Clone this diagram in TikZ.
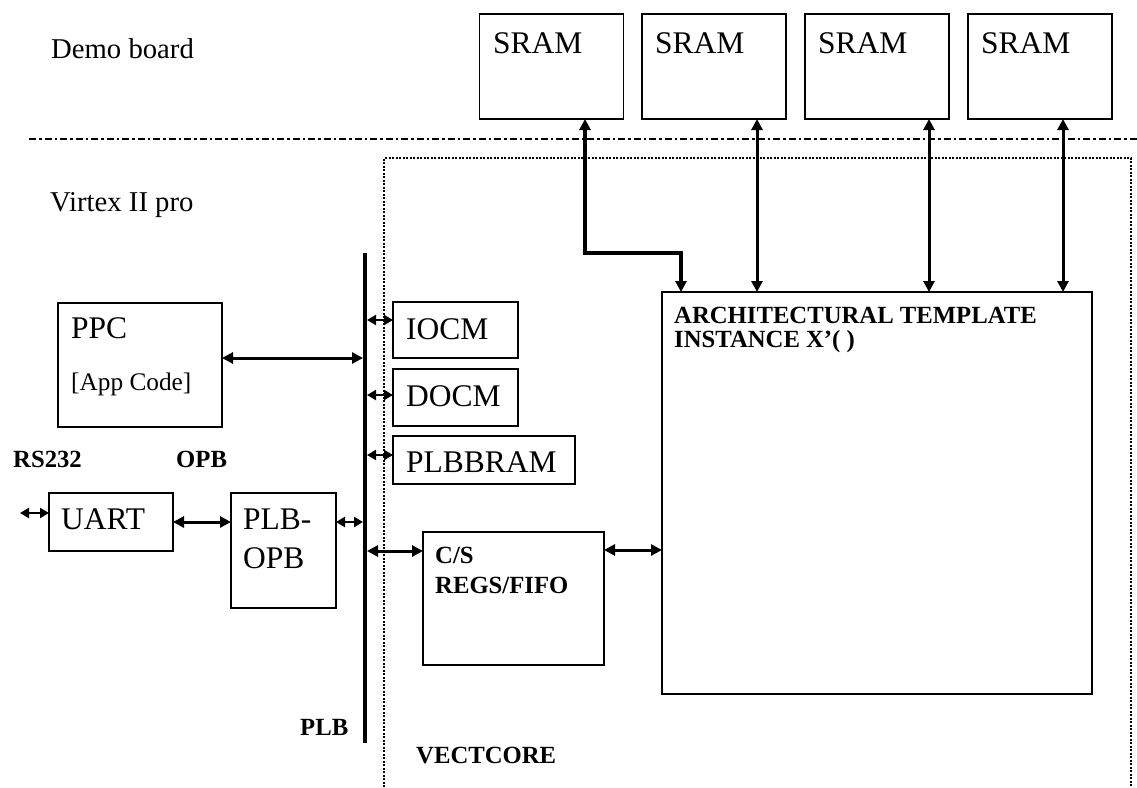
\documentclass[tikz,border=0pt]{standalone}
\usepackage{fontspec}
\setmainfont{Liberation Serif}
\usetikzlibrary{arrows.meta}
\tikzset{
  box/.style={draw, line width=1.5pt, inner sep=0pt, outer sep=0pt},
  big/.style={inner sep=0pt, anchor=base west, font=\fontsize{31.5}{36}\selectfont},
  mid/.style={inner sep=0pt, anchor=base west, font=\fontsize{28.7}{33}\selectfont},
  small/.style={inner sep=0pt, anchor=base west, font=\fontsize{25.3}{29}\selectfont},
  bld/.style={inner sep=0pt, anchor=base west, font=\fontsize{24.7}{28}\selectfont\bfseries},
  arr/.style={line width=3pt, {Triangle[length=11pt,width=11pt]}-{Triangle[length=11pt,width=11pt]}},
  sarr/.style={line width=2.8pt, {Triangle[length=9pt,width=10pt]}-{Triangle[length=9pt,width=10pt]}},
  dashdot/.style={line width=2.8pt, dash pattern=on 7pt off 3pt on 2.5pt off 3pt},
  dotbox/.style={line width=1.5pt, dash pattern=on 2pt off 1.5pt}
}
\begin{document}
\begin{tikzpicture}[x=1pt,y=-1pt]
\useasboundingbox (0,0) rectangle (1137,787);

% region separators
\coordinate (dl) at (29,139);
\coordinate (dr) at (1137,139);
\draw[dashdot] (dl) -- (dr);
\draw[dotbox] (384,787) -- (384,158) -- (1131,158) -- (1131,787);

% labels
\node[mid] (demo) at (51,58) {Demo board};
\node[mid] (virtex) at (50,211) {Virtex II pro};

% SRAM boxes
\node[box, minimum width=144pt, minimum height=105pt] (sram1) at (551.5,66.5) {};
\node[box, minimum width=144pt, minimum height=105pt] (sram2) at (714,66.5) {};
\node[box, minimum width=144pt, minimum height=105pt] (sram3) at (877,66.5) {};
\node[box, minimum width=144pt, minimum height=105pt] (sram4) at (1040,66.5) {};
\node[big] (t1) at (493,53) {SRAM};
\node[big] (t2) at (655,53) {SRAM};
\node[big] (t3) at (818,53) {SRAM};
\node[big] (t4) at (981,53) {SRAM};

% PPC
\node[box, minimum width=164pt, minimum height=124pt] (ppc) at (140,365) {};
\node[big] (ppct) at (71,338) {PPC};
\node[small] (appt) at (71,390) {[App Code]};

% bus
\node[fill=black, inner sep=0pt, outer sep=0pt, minimum width=4pt, minimum height=490pt] (plb) at (365,498) {};
\node[bld] (plbt) at (300,735) {PLB};

% memories
\node[box, minimum width=125pt, minimum height=56pt] (iocm) at (455.5,330) {};
\node[big] (iocmt) at (406,339) {IOCM};
\node[box, minimum width=125pt, minimum height=57pt] (docm) at (455.5,397.5) {};
\node[big] (docmt) at (406,406) {DOCM};
\node[box, minimum width=182pt, minimum height=48pt] (plbbram) at (484,460) {};
\node[big] (plbbramt) at (406,472) {PLBBRAM};

% UART / PLB-OPB
\node[bld] (rst) at (13,467) {RS232};
\node[bld] (opbt) at (176,467) {OPB};
\node[box, minimum width=124pt, minimum height=58pt] (uart) at (111,522) {};
\node[big] (uartt) at (61,529) {UART};
\node[box, minimum width=105pt, minimum height=115pt] (plbopb) at (283.5,550.5) {};
\node[big] (plbopbt1) at (243,529) {PLB-};
\node[big] (plbopbt2) at (243,568) {OPB};

% C/S
\node[box, minimum width=181pt, minimum height=133pt] (cs) at (513.5,598.5) {};
\node[bld] (cst1) at (435,563) {C/S};
\node[bld] (cst2) at (435,593) {REGS/FIFO};

% Architectural template
\node[box, minimum width=430pt, minimum height=402pt] (arch) at (877,493) {};
\node[bld] (archt1) at (674,323) {ARCHITECTURAL TEMPLATE};
\node[bld] (archt2) at (674,347) {INSTANCE X’( )};

\node[bld] (vect) at (416,763) {VECTCORE};

% connectors
\coordinate (rs) at (20,513);
\draw[sarr] (rs) -- (uart.west |- rs);
\draw[arr] (uart.east |- 0,522) -- (plbopb.west |- 0,522);
\draw[sarr] (plbopb.east |- 0,522) -- (plb.west |- 0,522);
\draw[arr] (ppc.east |- 0,358) -- (plb.west |- 0,358);
\draw[sarr] (plb.east |- 0,320) -- (iocm.west |- 0,320);
\draw[sarr] (plb.east |- 0,395) -- (docm.west |- 0,395);
\draw[sarr] (plb.east |- 0,455) -- (plbbram.west |- 0,455);
\draw[arr] (plb.east |- 0,551) -- (cs.west |- 0,551);
\draw[arr] (cs.east |- 0,550) -- (arch.west |- 0,550);

\draw[arr, line width=3.6pt] (sram1.south -| 585,0) -- (585,253) -- (681,253) -- (arch.north -| 681,0);
\draw[arr] (sram2.south -| 757,0) -- (arch.north -| 757,0);
\draw[arr] (sram3.south -| 929,0) -- (arch.north -| 929,0);
\draw[arr] (sram4.south -| 1063,0) -- (arch.north -| 1063,0);
\end{tikzpicture}
\end{document}
